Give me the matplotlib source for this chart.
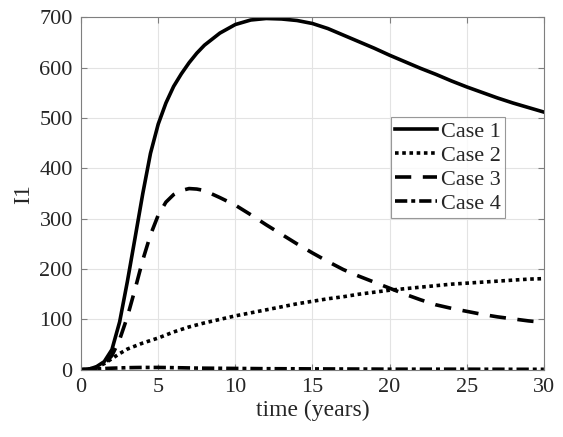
import numpy as np
import matplotlib
matplotlib.use('Agg')
import matplotlib.pyplot as plt

plt.rcParams['font.family'] = ['Liberation Serif', 'DejaVu Serif']

# values
t = [0, 0.5, 1, 1.5, 2, 2.5, 3, 3.5, 4, 4.5, 5, 5.5, 6, 6.5, 7, 7.5, 8, 9, 10,
     11, 12, 13, 14, 15, 16, 17, 18, 19, 20, 21, 22, 23, 24, 25, 26, 27, 28, 29, 30]
case1 = [0, 1, 6, 16, 40, 95, 175, 262, 350, 430, 488, 530, 563, 588, 610, 629, 645, 669, 686,
         695, 698, 697, 694, 688, 678, 665, 652, 639, 625, 612, 599, 587, 574, 562, 551, 540, 530, 521, 512]
case2 = [0, 1, 5, 12, 22, 32, 41, 47, 53, 58, 63, 69, 75, 80, 85, 89, 93, 100, 107,
         113, 119, 125, 131, 136, 141, 145, 150, 154, 158, 161, 164, 167, 170, 172, 174, 176, 178, 180, 181]
case3 = [0, 0.5, 3, 11, 28, 60, 105, 160, 218, 268, 307, 333, 348, 356, 360, 359, 356, 342, 327,
         308, 288, 269, 250, 232, 215, 199, 186, 174, 162, 150, 139, 129, 122, 116, 110, 105, 101, 97, 94]
case4 = [0, 0.8, 1.5, 2.3, 3, 3.5, 4, 4.3, 4.5, 4.5, 4.5, 4.3, 4, 3.8, 3.5, 3.2, 3, 2.8, 2.5,
         2.3, 2, 1.9, 1.8, 1.6, 1.5, 1.4, 1.3, 1.2, 1, 1, 1, 1, 1, 1, 0.9, 0.9, 0.8, 0.8, 0.8]
labels = ['Case 1', 'Case 2', 'Case 3', 'Case 4']

fig = plt.figure(figsize=(5.63, 4.37), dpi=100)
ax = fig.add_axes([0.144, 0.154, 0.822, 0.806])

lw = 2.6
ax.plot(t, case1, color='k', lw=lw, ls='-', label=labels[0])
ax.plot(t, case2, color='k', lw=lw, ls=(0, (1, 1)), label=labels[1])
ax.plot(t, case3, color='k', lw=lw, ls=(0, (4.5, 3.2)), label=labels[2])
ax.plot(t, case4, color='k', lw=lw, ls=(0, (3.4, 1.1, 1.1, 1.1)), label=labels[3])

ax.set_xlim(0, 30)
ax.set_ylim(0, 700)
ax.set_xticks(np.arange(0, 31, 5))
ax.set_yticks(np.arange(0, 701, 100))
ax.grid(True, color='#e3e3e3', lw=0.8)
ax.set_axisbelow(True)
for s in ax.spines.values():
    s.set_color('#7f7f7f')
    s.set_linewidth(0.8)
ax.tick_params(direction='in', length=4, width=0.8, color='#7f7f7f',
               labelsize=16, labelcolor='#262626', top=True, right=True, pad=6)

ax.set_xlabel('time (years)', fontsize=17, color='#262626', labelpad=2)
ax.set_ylabel('I1', fontsize=17, color='#262626', labelpad=4)

leg = ax.legend(loc='upper right', bbox_to_anchor=(0.916, 0.717), fontsize=16,
                frameon=True, fancybox=False, handlelength=1.9, handletextpad=0.15,
                borderpad=0.2, labelspacing=0.15, borderaxespad=0)
leg.get_frame().set_edgecolor('#7f7f7f')
leg.get_frame().set_linewidth(0.8)
for txt in leg.get_texts():
    txt.set_color('#262626')

fig.savefig('out.png', dpi=100)
